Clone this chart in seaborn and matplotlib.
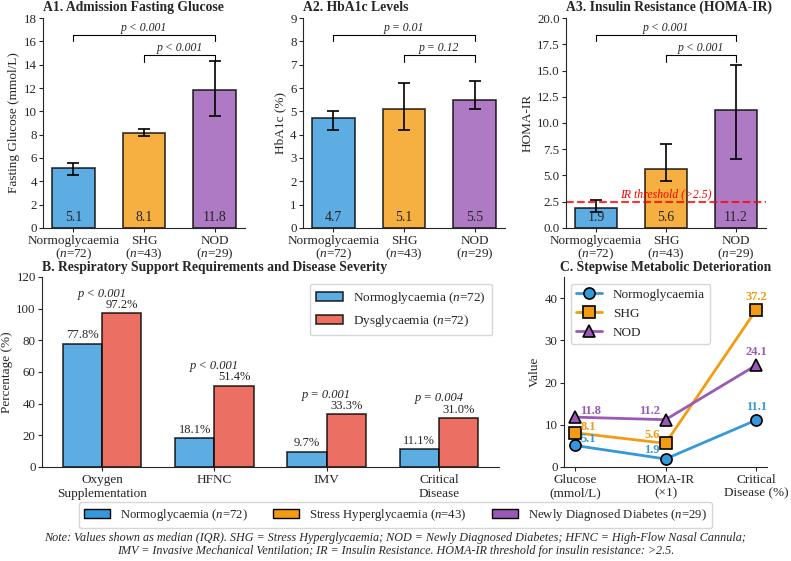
import matplotlib
matplotlib.use("Agg")
import matplotlib.pyplot as plt
import numpy as np
import pandas as pd
import seaborn as sns
from matplotlib.patches import Patch

sns.set_style("ticks")
plt.rcParams["font.family"] = "serif"
plt.rcParams["font.serif"] = ["Liberation Serif", "DejaVu Serif"]
plt.rcParams["mathtext.fontset"] = "custom"
plt.rcParams["mathtext.rm"] = "Liberation Serif"
plt.rcParams["mathtext.it"] = "Liberation Serif:italic"
plt.rcParams["font.size"] = 9.5
plt.rcParams["xtick.labelsize"] = 9.5
plt.rcParams["ytick.labelsize"] = 9.3
plt.rcParams["xtick.major.size"] = 3
plt.rcParams["ytick.major.size"] = 3
plt.rcParams["xtick.major.pad"] = 2
plt.rcParams["ytick.major.pad"] = 1.5
plt.rcParams["axes.labelpad"] = 2.5

# group colours
BLUE, ORANGE, PURPLE, RED = "#3498db", "#f39c12", "#9b59b6", "#e74c3c"

groups = ["Normoglycaemia", "SHG", "NOD"]
group_n = [72, 43, 29]
group_ticks = [f"{g}\n($n$={n})" for g, n in zip(groups, group_n)]

# panel A: median with IQR
glucose_med = [5.1, 8.1, 11.8]
glucose_q1 = [4.5, 7.9, 9.6]
glucose_q3 = [5.6, 8.5, 14.3]
glucose_p = ["p < 0.001", "p < 0.001"]

hba1c_med = [4.7, 5.1, 5.5]
hba1c_q1 = [4.2, 4.2, 5.1]
hba1c_q3 = [5.0, 6.2, 6.3]
hba1c_p = ["p = 0.01", "p = 0.12"]

homa_med = [1.9, 5.6, 11.2]
homa_q1 = [1.5, 4.5, 6.6]
homa_q3 = [2.7, 8.0, 15.5]
homa_p = ["p < 0.001", "p < 0.001"]
homa_threshold = 2.5

# panel B: respiratory support (%)
outcomes = ["Oxygen\nSupplementation", "HFNC", "IMV", "Critical\nDisease"]
normo_pct = [77.8, 18.1, 9.7, 11.1]
dys_pct = [97.2, 51.4, 33.3, 31.0]
outcome_p = ["p < 0.001", "p < 0.001", "p = 0.001", "p = 0.004"]

# panel C: stepwise deterioration
stages = ["Glucose\n(mmol/L)", "HOMA-IR\n(×1)", "Critical\nDisease (%)"]
normo_steps = [5.1, 1.9, 11.1]
shg_steps = [8.1, 5.6, 37.2]
nod_steps = [11.8, 11.2, 24.1]

fig = plt.figure(figsize=(7.91, 5.61), dpi=100)

palette = [BLUE, ORANGE, PURPLE]


def bar_panel(rect, med, q1, q3, pvals, ymax, yticks, ylabel, title, fmt="{:.0f}"):
    ax = fig.add_axes(rect)
    df = pd.DataFrame({"group": groups, "value": med})
    sns.barplot(data=df, x="group", y="value", hue="group", palette=palette,
                saturation=1, width=0.6, alpha=0.8, edgecolor="black", linewidth=1.2,
                errorbar=None, legend=False, ax=ax)
    x = np.arange(len(groups))
    med = np.array(med)
    yerr = [med - np.array(q1), np.array(q3) - med]
    ax.errorbar(x, med, yerr=yerr, fmt="none", ecolor="black",
                elinewidth=1.2, capsize=4, capthick=1.2)
    for xi, v in zip(x, med):
        ax.text(xi, ymax * 0.02, f"{v:.1f}", ha="center", va="bottom", fontsize=10)
    # significance brackets
    tick = ymax * 0.03
    for (a, b), h, p in zip([(0, 2), (1, 2)], [ymax * 0.92, ymax * 0.822], pvals):
        ax.plot([a, a, b, b], [h - tick, h, h, h - tick], color="black", lw=0.8)
        ax.text((a + b) / 2, h + ymax * 0.005, p, ha="center", va="bottom",
                style="italic", fontsize=8.5)
    ax.set_ylim(0, ymax)
    ax.set_xlim(-0.43, 2.43)
    ax.set_yticks(yticks)
    ax.set_yticklabels([fmt.format(t) for t in yticks])
    ax.set_xticks(x)
    ax.set_xticklabels(group_ticks, linespacing=0.92)
    ax.set_xlabel("")
    ax.set_ylabel(ylabel)
    ax.set_title(title, loc="left", fontweight="bold", fontsize=9.8, pad=5)
    sns.despine(ax=ax)
    return ax


bar_panel([0.0544, 0.5936, 0.2554, 0.3743], glucose_med, glucose_q1, glucose_q3,
          glucose_p, 18, np.arange(0, 19, 2), "Fasting Glucose (mmol/L)",
          "A1. Admission Fasting Glucose")
bar_panel([0.383, 0.5936, 0.2554, 0.3743], hba1c_med, hba1c_q1, hba1c_q3,
          hba1c_p, 9, np.arange(0, 10, 1), "HbA1c (%)", "A2. HbA1c Levels")
ax3 = bar_panel([0.7155, 0.5936, 0.2528, 0.3743], homa_med, homa_q1, homa_q3,
                homa_p, 20, np.arange(0, 20.1, 2.5), "HOMA-IR",
                "A3. Insulin Resistance (HOMA-IR)", fmt="{:.1f}")
ax3.axhline(homa_threshold, color="red", ls="--", lw=1.5, alpha=0.8)
ax3.text(1.0, homa_threshold + 0.1, "IR threshold (>2.5)", color="red",
         style="italic", ha="center", va="bottom", fontsize=8.5)

# panel B
axb = fig.add_axes([0.0531, 0.1676, 0.5778, 0.3387])
dfb = pd.DataFrame({
    "outcome": outcomes * 2,
    "pct": normo_pct + dys_pct,
    "group": ["Normoglycaemia ($n$=72)"] * 4 + ["Dysglycaemia ($n$=72)"] * 4,
})
sns.barplot(data=dfb, x="outcome", y="pct", hue="group", palette=[BLUE, RED],
            saturation=1, width=0.7, alpha=0.8, edgecolor="black", linewidth=1.2,
            errorbar=None, ax=axb)
for i, (a, b, p) in enumerate(zip(normo_pct, dys_pct, outcome_p)):
    axb.text(i - 0.175, a + 1.5, f"{a:.1f}%", ha="center", va="bottom", fontsize=9)
    axb.text(i + 0.175, b + 1.5, f"{b:.1f}%", ha="center", va="bottom", fontsize=9)
    axb.text(i, max(a, b) + 8.5, p, ha="center", va="bottom", style="italic", fontsize=9)
axb.set_ylim(0, 120)
axb.set_xlim(-0.535, 3.535)
axb.set_xlabel("")
axb.set_ylabel("Percentage (%)")
axb.legend(title=None, loc="upper right", fontsize=9.5, borderpad=0.5)
axb.set_title("B. Respiratory Support Requirements and Disease Severity",
              loc="left", fontweight="bold", fontsize=9.8, pad=4)
sns.despine(ax=axb)

# panel C
axc = fig.add_axes([0.713, 0.1676, 0.2567, 0.3387])
dfc = pd.DataFrame({
    "stage": stages * 3,
    "value": normo_steps + shg_steps + nod_steps,
    "group": [g for g in groups for _ in stages],
})
sns.lineplot(data=dfc, x="stage", y="value", hue="group", style="group",
             palette=palette, markers={"Normoglycaemia": "o", "SHG": "s", "NOD": "^"},
             dashes=False, sort=False, lw=2, markersize=8,
             markeredgecolor="black", markeredgewidth=1.2, ax=axc)
offsets = [((4, 0), "left"), ((-4, 2), "right"), ((0, 5), "center")]
for vals, col in zip([normo_steps, shg_steps, nod_steps], palette):
    for j, v in enumerate(vals):
        (dx, dy), ha = offsets[j]
        axc.annotate(f"{v:.1f}", (j, v), xytext=(dx, dy), textcoords="offset points",
                     ha=ha, va="bottom", color=col, fontweight="bold", fontsize=9)
axc.set_ylim(0, 45)
axc.set_xlim(-0.12, 2.12)
axc.set_yticks([0, 10, 20, 30, 40])
axc.set_xlabel("")
axc.set_ylabel("Value")
h, l = axc.get_legend_handles_labels()
axc.legend(h, l, title=None, loc="upper left", fontsize=9.5)
axc.set_title("C. Stepwise Metabolic Deterioration", fontweight="bold", fontsize=9.8, pad=4)
sns.despine(ax=axc)

# shared legend and note
handles = [Patch(facecolor=c, edgecolor="black", label=l) for c, l in zip(
    palette, ["Normoglycaemia ($n$=72)", "Stress Hyperglycaemia ($n$=43)",
              "Newly Diagnosed Diabetes ($n$=29)"])]
fig.legend(handles=handles, loc="center", bbox_to_anchor=(0.5, 0.082), ncol=3,
           fontsize=9.2, frameon=True, edgecolor="#cccccc", columnspacing=2.0)
fig.text(0.5, 0.03,
         "Note: Values shown as median (IQR). SHG = Stress Hyperglycaemia; NOD = Newly Diagnosed Diabetes; "
         "HFNC = High-Flow Nasal Cannula;\nIMV = Invasive Mechanical Ventilation; IR = Insulin Resistance. "
         "HOMA-IR threshold for insulin resistance: >2.5.",
         ha="center", va="center", style="italic", fontsize=8.7, linespacing=1.1)

fig.savefig("out.png", dpi=100)
